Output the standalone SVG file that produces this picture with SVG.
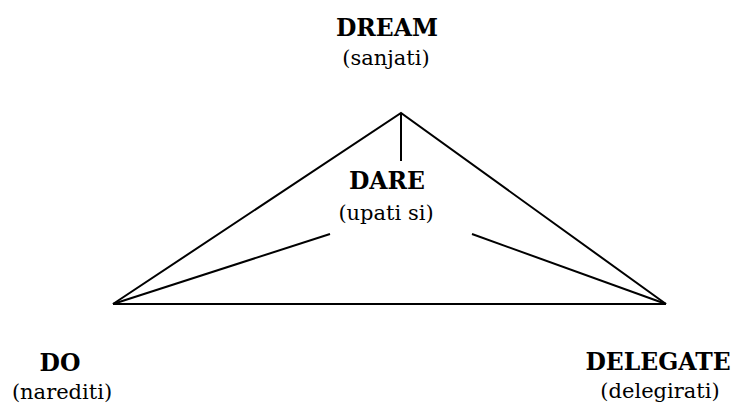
<svg xmlns="http://www.w3.org/2000/svg" width="733" height="405" viewBox="0 0 733 405">
<style>
text{font-family:'DejaVu Serif',serif;font-size:21px;fill:#000;text-anchor:middle}
.b{font-weight:bold;font-size:23.5px}
.ln{stroke:#000;stroke-width:2;fill:none;stroke-linecap:butt}
</style>
<rect width="733" height="405" fill="#fff"/>
<g id="connectors">
<polyline class="ln" points="113,304 401,113 666,304"/>
<line class="ln" x1="113" y1="304" x2="666" y2="304"/>
<line class="ln" x1="401" y1="113" x2="401" y2="161"/>
<line class="ln" x1="113" y1="304" x2="330" y2="234"/>
<line class="ln" x1="666" y1="304" x2="472" y2="234"/>
</g>
<g id="dream"><text class="b" x="387" y="36">DREAM</text><text x="386" y="65">(sanjati)</text></g>
<g id="dare"><text class="b" x="387" y="189">DARE</text><text x="386" y="220">(upati si)</text></g>
<g id="do"><text class="b" x="60" y="371">DO</text><text x="62" y="399">(narediti)</text></g>
<g id="delegate"><text class="b" x="658" y="370">DELEGATE</text><text x="660" y="398">(delegirati)</text></g>
</svg>
